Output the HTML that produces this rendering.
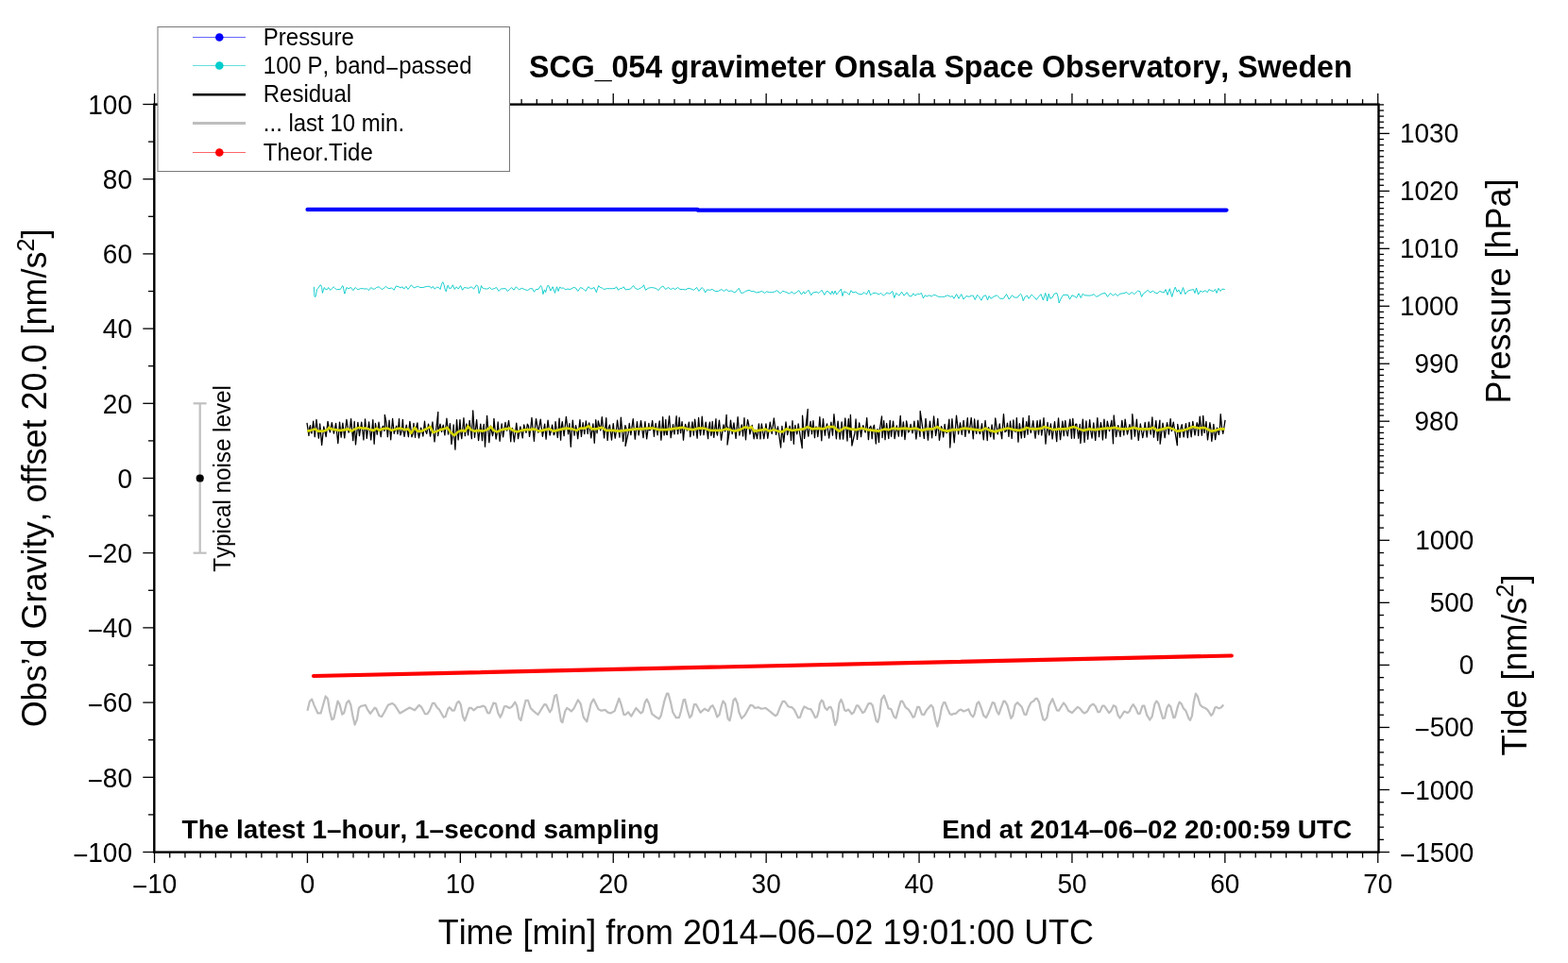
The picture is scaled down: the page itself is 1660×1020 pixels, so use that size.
<!DOCTYPE html>
<html><head><meta charset="utf-8"><title>SCG_054 gravimeter Onsala Space Observatory</title>
<style>html,body{margin:0;padding:0;background:#fff;width:1660px;height:1020px;overflow:hidden}svg{display:block}</style>
</head><body>
<svg width="1660" height="1020" viewBox="0 0 1660 1020" style="font-family:'Liberation Sans',Arial,Helvetica,sans-serif;font-kerning:none">
<rect width="1660" height="1020" fill="#fff"/>
<polyline points="325.48,752.71 327.83,742.92 330.18,740.57 332.53,746.84 336.45,755.45 339.58,755.45 344.67,737.44 347.02,740.18 348.98,752.71 351.33,762.11 353.28,761.33 357.59,742.53 359.55,746.05 362.29,756.63 364.25,755.06 366.99,744.49 369.34,742.14 371.3,746.45 373.25,757.41 375.6,767.59 377.95,762.11 379.91,749.97 381.87,748.01 386.96,746.84 389.31,751.93 392.05,755.84 396.75,749.58 398.31,750.75 401.45,758.19 404.19,758.98 406.93,754.28 410.84,746.84 415.15,744.88 417.89,746.84 423.37,755.45 428.07,752.71 433.55,749.58 439.04,752.32 443.73,746.84 446.08,748.8 450.09,756.23 452.44,756.23 454.79,752.71 457.92,744.88 459.88,744.88 462.62,749.19 464.97,751.54 469.67,759.76 471.63,758.98 474.37,750.75 475.93,749.19 479.07,752.71 481.02,752.32 483.77,744.49 485.72,742.92 487.68,746.05 490.03,758.98 491.99,763.28 493.95,758.19 496.69,749.97 499.04,749.97 501.39,752.32 505.69,748.8 508.43,748.8 511.57,747.62 513.52,748.8 516.27,755.06 518.22,755.45 522.53,744.49 524.88,745.27 527.23,755.06 529.58,759.76 531.54,755.84 533.89,748.4 535.84,748.01 539.37,749.97 542.11,748.4 545.24,743.7 547.2,747.62 549.55,760.93 551.51,762.89 553.86,752.71 556.6,741.75 558.95,741.75 561.69,749.97 564.82,753.1 569.52,757.02 576.27,746.05 578.22,746.45 582.14,754.28 584.1,751.14 587.23,737.05 589.19,735.87 591.14,746.84 593.89,763.67 595.45,765.24 598.19,753.49 600.15,749.97 602.11,751.14 604.85,753.49 607.59,750.36 611.9,741.36 614.64,745.27 617.77,759.76 621.3,764.46 625.6,745.27 628.34,740.57 630.69,745.27 633.43,751.14 636.57,752.71 640.48,751.93 643.61,754.67 646.36,755.45 650.66,753.1 655.36,739.79 657.71,746.45 660.45,757.02 662.02,757.02 665.15,754.28 668.28,758.58 673.37,749.97 678.46,755.45 680.42,753.89 682.77,744.1 684.73,740.57 687.08,745.27 690.21,756.23 693.73,758.98 697.74,761.33 699.7,758.19 703.22,742.92 705.96,734.7 707.53,734.7 710.27,744.88 712.23,754.28 715.75,760.15 718.89,760.15 720.84,753.49 723.58,741.36 725.15,740.96 727.89,752.71 730.24,760.15 732.2,757.8 734.94,746.05 736.9,746.05 741.6,754.67 745.9,750.75 749.82,753.1 752.56,748.4 754.52,747.23 756.87,751.93 759.22,759.37 761.57,757.02 763.92,747.23 765.48,742.53 767.83,745.66 770.57,760.93 772.53,763.28 774.1,756.63 776.45,741.75 778.4,739.79 780.75,745.27 782.32,754.28 785.06,760.93 788.58,757.41 794.46,746.84 796.81,747.23 799.16,749.97 803.07,749.19 806.2,750.75 810.51,749.97 815.6,753.89 820.69,758.19 822.74,757.02 825.87,748.8 828.61,742.92 830.57,742.92 832.53,745.27 834.1,748.01 836.05,748.8 838.4,749.19 840.75,751.54 845.06,760.15 847.02,759.76 849.37,752.71 851.33,748.4 853.67,749.58 855.63,750.75 858.37,751.14 860.72,755.06 863.07,760.15 865.03,758.98 866.99,751.93 867.77,745.66 869.73,741.75 871.3,742.92 873.25,749.58 875.6,751.93 877.56,749.19 879.52,748.8 881.48,753.49 882.65,761.33 884.22,767.98 886.17,762.89 888.52,744.88 890.48,740.96 892.44,745.66 894.01,751.93 895.57,753.1 898.31,751.54 901.84,756.23 903.8,754.67 906.93,747.23 908.49,747.23 910.45,750.36 913.19,755.06 915.15,753.89 919.46,745.27 921.81,744.88 923.77,747.23 927.68,763.67 929.25,764.85 930.81,759.76 933.16,740.96 935.9,736.66 937.86,742.14 940.6,750.36 943.34,751.14 946.57,759.37 948.52,760.54 950.87,751.93 953.61,742.92 955.18,742.53 956.75,745.27 958.7,749.19 961.84,751.54 964.19,755.06 966.54,759.76 968.1,758.98 971.23,748.8 973.19,748.8 975.93,756.63 978.28,757.02 981.02,751.93 984.16,748.4 985.72,746.84 987.68,749.19 990.03,761.33 992.38,769.55 994.73,761.33 997.08,748.8 999.04,744.1 1000.6,744.1 1002.95,750.36 1005.69,756.23 1007.65,757.02 1009.61,755.84 1011.96,755.84 1015.48,752.32 1017.44,751.54 1020.18,753.49 1023.31,752.32 1025.27,751.14 1027.62,756.63 1029.97,759.37 1031.54,756.63 1034.28,745.27 1036.23,743.31 1038.98,750.36 1041.33,757.8 1044.07,760.15 1046.81,754.28 1050.72,744.1 1052.68,744.88 1055.42,753.49 1057.38,756.63 1060.12,748.8 1062.47,742.53 1064.04,742.92 1066.39,746.84 1070.3,760.93 1072.35,757.8 1074.7,746.84 1077.05,744.1 1081.75,748.8 1084.49,756.63 1086.45,757.02 1088.8,749.58 1091.54,744.1 1094.28,742.53 1096.63,739.79 1098.19,740.18 1100.15,744.1 1102.11,753.49 1104.46,762.11 1106.02,762.89 1108.37,760.15 1110.72,747.23 1114.25,740.18 1116.6,746.45 1118.95,752.32 1120.9,752.71 1125.99,744.49 1127.95,746.84 1131.08,752.71 1135,755.06 1140.87,748.8 1143.22,750.36 1146.36,754.28 1148.31,755.45 1151.05,753.49 1154.19,747.62 1157.32,745.66 1159.67,748.01 1162.41,754.28 1164.37,753.89 1167.11,747.62 1169.07,747.62 1174.16,755.06 1176.11,753.1 1178.86,747.23 1181.2,748.4 1183.55,757.41 1185.51,760.54 1187.47,757.8 1190.21,753.49 1193.73,755.06 1195.69,753.49 1197.74,748.8 1199.7,746.05 1202.44,750.36 1204.79,755.84 1206.75,755.84 1209.49,747.62 1211.45,747.62 1214.19,757.41 1217.32,762.5 1219.67,758.98 1222.41,746.05 1224.37,742.53 1226.33,744.88 1231.02,760.93 1232.98,760.54 1235.33,749.97 1237.29,746.45 1239.25,748.4 1242.38,760.15 1243.95,759.76 1247.08,747.62 1248.64,743.7 1250.6,745.27 1252.95,750.36 1255.3,752.71 1258.43,760.93 1260,762.89 1261.96,758.19 1263.92,742.92 1265.87,734.7 1267.83,737.44 1270.57,746.45 1272.92,748.8 1276.45,750.36 1278.4,751.93 1282.32,757.8 1284.28,755.45 1286.23,749.58 1287.41,748.8 1290.54,750.36 1292.89,749.19 1295.24,746.45" fill="none" stroke="#bebebe" stroke-width="2.2" stroke-linejoin="round" />
<line x1="332" y1="716" x2="1303.8" y2="694.5" stroke="#ff0000" stroke-width="4.2" stroke-linecap="round"/>
<polyline points="325.5,221.9 738.5,221.9 738.6,222.6 1298.5,222.6" fill="none" stroke="#0000ff" stroke-width="4.2" stroke-linejoin="round" stroke-linecap="round"/>
<polyline points="332.44,303.75 332.83,313.14 333.61,314.71 334.4,313.14 335.57,306.49 336.75,305.31 339.1,301.79 339.88,302.18 340.66,304.53 341.45,310.4 342.23,307.66 343.4,304.53 344.58,306.49 346.14,306.88 347.71,304.53 348.89,306.49 350.06,307.27 351.63,305.7 353.19,303.75 354.37,304.92 356.33,306.88 357.89,306.49 359.85,306.49 361.02,305.7 362.59,302.57 363.37,303.36 364.16,308.45 364.94,311.19 365.72,308.45 366.9,304.53 368.86,305.7 371.6,304.53 373.95,307.66 376.3,304.53 378.25,306.49 379.82,306.49 381.39,305.7 384.52,305.7 386.87,306.1 388.43,305.7 390.39,307.66 392.74,304.53 394.7,306.1 396.66,306.1 398.61,304.53 400.96,303.75 402.53,304.92 404.1,306.49 406.05,305.7 408.4,303.36 410.36,304.92 411.93,305.7 414.67,304.92 417.02,307.27 419.37,302.96 422.11,303.75 424.07,304.92 426.02,303.75 427.59,306.1 429.94,303.36 431.9,306.49 433.46,304.53 435.42,301.79 438.16,304.92 440.12,304.14 442.47,303.36 444.82,304.53 447.95,304.53 450.3,303.75 452.65,303.36 455,303.36 455.48,303.75 456.66,305.31 458.22,303.36 460.18,306.1 462.53,304.14 464.49,304.53 466.05,306.49 467.62,300.61 468.8,298.66 469.97,301.4 471.14,306.49 472.32,308.84 473.49,303.75 474.28,302.18 475.45,305.31 477.41,305.31 479.37,301.79 481.33,306.49 483.28,303.75 485.24,306.1 487.59,302.57 489.55,307.27 491.51,304.53 493.86,304.92 496.2,305.31 498.95,303.75 501.69,306.1 504.43,301.79 505.99,303.36 507.17,310.8 508.34,307.66 509.52,302.57 510.69,304.92 512.65,305.7 515.78,306.1 518.52,304.53 520.48,306.49 523.22,305.7 525.57,304.53 527.92,308.45 530.27,306.1 533.01,305.7 535.36,305.7 537.32,308.45 539.28,306.88 541.63,304.53 543.98,307.27 546.33,303.75 549.46,306.88 552.2,305.31 555.33,306.49 558.46,307.66 561.2,305.7 563.55,305.7 565.51,309.23 567.47,306.49 569.82,306.49 572.56,302.57 573.73,304.53 574.91,311.58 576.48,306.88 577.65,309.62 579.22,303.75 579.7,302.57 580.87,302.57 582.83,308.05 585.18,303.75 587.53,310.4 589.49,303.75 591.05,308.45 592.62,304.14 594.58,305.31 596.54,304.92 598.49,306.88 600.84,306.1 603.98,306.49 607.11,304.53 609.46,304.92 611.81,308.45 614.55,304.53 617.29,305.7 620.03,308.45 622.77,303.75 625.9,306.1 629.04,304.53 631.39,309.62 632.56,305.7 633.73,302.57 635.3,304.53 637.26,304.92 639.22,306.49 642.35,305.7 645.48,305.7 648.61,305.7 651.36,305.31 652.53,303.75 654.49,307.27 656.45,305.7 658.4,305.31 660.36,303.75 662.32,306.88 665.06,306.49 667.41,306.1 670.54,302.57 672.89,305.7 675.63,306.49 678.37,304.92 680.33,303.75 681.51,301.79 683.46,307.27 686.2,305.31 689.34,304.53 692.47,304.92 694.82,305.7 697.17,307.66 699.52,304.53 701.87,302.96 704.61,306.49 707.44,304.53 710.18,306.49 712.53,305.31 714.88,306.49 717.62,304.53 719.97,306.49 722.71,306.49 725.45,306.88 728.98,305.31 731.72,306.1 734.46,307.27 737.59,304.53 739.94,308.45 743.07,304.53 745.03,306.49 746.6,310.01 748.55,306.88 751.3,307.27 754.04,306.49 757.17,308.45 760.3,308.45 763.83,306.49 766.57,308.45 768.92,306.49 771.27,308.45 774.4,308.05 777.92,310.01 782.23,305.31 784.58,310.4 787.32,310.01 789.28,308.45 793.19,307.27 795.93,308.84 797.89,308.45 800.63,310.01 804.16,309.23 806.51,308.45 809.64,310.4 811.6,308.84 814.34,309.62 817.47,309.62 820.6,308.84 822.56,307.66 826.08,310.8 828.43,308.45 830,308.45 830.48,308.84 832.83,309.62 835.57,311.19 837.92,308.84 840.66,311.19 843.4,309.62 845.75,307.66 848.49,311.97 850.84,308.84 852.02,311.19 855.93,307.27 858.67,312.75 860.63,310.01 864.16,309.23 866.9,310.4 870.03,307.27 872.77,312.36 875.12,308.45 877.08,308.84 879.43,311.97 880.99,308.45 882.56,311.58 884.13,308.05 885.69,311.97 887.65,309.62 890.39,306.1 891.96,313.54 893.52,308.84 896.27,309.62 899.01,312.36 900.96,307.66 902.92,310.01 905.66,309.23 908.8,311.19 911.93,311.97 915.06,309.62 917.41,311.97 919.76,307.27 921.72,312.75 924.07,310.4 927.59,310.4 930.33,311.97 932.68,310.4 935.42,313.14 938.95,310.01 941.69,311.19 944.82,308.45 946.78,315.49 948.73,310.4 951.87,313.14 954.61,309.23 957.05,313.14 960.18,309.62 962.53,313.54 964.88,313.93 966.84,310.8 968.8,313.14 971.54,311.19 973.49,311.58 975.45,310.4 977.41,315.89 979.37,312.75 981.33,313.93 983.67,312.75 986.42,313.93 988.37,312.36 990.72,312.75 993.46,314.32 996.6,314.32 999.73,314.32 1003.25,312.75 1006.39,314.32 1008.34,313.54 1009.91,316.28 1012.65,311.58 1015,316.28 1017.74,311.58 1020.09,317.06 1022.83,313.54 1025.96,314.32 1028.31,313.14 1030.27,313.14 1032.23,317.45 1034.58,312.36 1036.54,314.32 1038.89,318.23 1041.23,313.54 1043.58,312.75 1045.54,317.84 1047.11,313.54 1049.07,316.28 1051.81,314.32 1055.33,312.75 1058.86,316.28 1062.38,316.28 1065.51,311.58 1068.25,317.06 1071.39,312.75 1074.13,315.1 1077.26,315.1 1079.61,311.97 1080.48,311.19 1081.66,312.75 1083.22,318.63 1085.18,314.32 1087.53,313.14 1089.1,316.28 1092.23,311.97 1094.58,314.32 1097.32,317.45 1099.28,314.71 1102.02,311.58 1104.37,317.84 1106.72,310.4 1107.89,314.71 1108.67,319.02 1110.24,311.19 1111.81,316.28 1114.16,315.1 1116.11,311.19 1118.86,310.4 1120.03,313.93 1121.2,320.98 1122.77,317.06 1125.51,312.36 1130.6,312.36 1132.56,317.06 1134.91,312.75 1137.65,313.93 1139.61,315.49 1141.96,310.8 1144.31,315.49 1146.27,311.19 1148.22,312.75 1153.31,313.14 1155.66,312.75 1158.01,311.58 1160.75,314.32 1163.49,313.14 1166.23,311.19 1170.15,310.4 1172.5,314.32 1175.63,310.4 1178.37,313.14 1180.72,311.19 1183.46,313.54 1185.42,311.19 1188.95,310.8 1192.86,309.62 1195.21,311.97 1198.34,309.62 1200.69,311.58 1204.22,308.45 1204.7,308.1 1206.66,308.49 1208.61,314.37 1210.57,310.84 1212.92,309.28 1215.27,307.32 1217.62,310.06 1220.36,308.1 1223.1,310.06 1225.06,310.84 1227.8,308.49 1230.15,309.28 1232.11,310.06 1234.07,306.54 1236.02,312.41 1238.37,305.75 1240.72,314.37 1242.68,307.71 1244.25,304.19 1246.2,309.28 1247.77,306.93 1250.12,311.63 1252.47,304.58 1254.82,311.63 1257.56,308.1 1260.3,307.32 1263.43,306.54 1265,310.45 1266.57,304.97 1268.52,312.02 1270.87,308.1 1273.22,309.28 1275.96,307.71 1278.31,309.67 1279.88,306.54 1281.84,307.71 1284.58,308.49 1286.54,306.54 1288.1,310.45 1290.06,305.36 1292.02,308.49 1293.98,306.14 1296.72,306.54" fill="none" stroke="#00c8c8" stroke-width="0.9" stroke-linejoin="round" />
<polyline points="325,447.85 326.96,461.46 327.71,453.34 328.46,450.73 329.25,457.87 330.04,458.98 331.69,446.19 333.26,462.64 334.97,444.44 337.38,464.09 338.04,458.09 338.7,449.01 340.64,471.33 342.78,451.88 345.19,462.51 347.03,446.36 349.35,457.81 351.34,447.57 353.41,459.09 355.6,448.44 357.84,469.56 359.54,447.07 361.14,463.15 362.87,448.07 364.76,463.91 366.88,444.46 369.13,458.04 370.37,454.57 371.61,443.6 373.76,466.66 375.2,446.52 376.5,470.9 378.89,447.37 380.52,461.66 382.75,447.15 384.94,465.87 385.74,454.95 386.54,444.01 387.4,453.05 388.26,464.3 390.6,446.79 392.71,465.95 394.8,444.53 396.14,470.33 397.51,448.51 399.27,460.17 401.02,447.24 403.24,462.55 404.42,453.29 405.59,451.24 406.5,456.05 407.41,455.88 407.3,439.3 408.99,447.57 410.37,462.7 412.07,445.27 413.7,465.75 415.62,443.47 417.23,459.24 419.71,451.14 420.37,456.17 421.04,459.69 422.51,443.75 423.23,455.65 423.96,460.82 425.18,457.01 426.39,444.39 427.23,456.78 428.07,462.39 429.15,455.96 430.23,450.09 432.41,462.64 433.16,452.96 433.92,446.3 435.96,462.77 436.96,460.14 437.97,448.4 439.54,463.28 440.72,452.75 441.91,447.84 442.71,459.49 443.51,463.8 445.68,453.16 447.9,462.05 449.53,446.23 450.64,456.79 451.75,459.43 453.56,449.06 455.56,462.09 457.95,446.98 459.99,467.97 462.22,450.67 463.8,436.3 463.63,461.55 464.83,454.49 466.02,449.06 467.59,457.26 469.22,450.07 470.87,460.91 472.93,443.23 473.74,450.72 474.55,460.01 476.45,448.63 477.95,470.36 479.06,462.58 480.17,450 481.9,476.2 483.52,444.56 485.14,465.92 486.05,456.86 486.97,444.64 487.89,459.06 488.81,464.56 490.95,442.74 492.33,461.59 493.91,448.83 494.76,455.16 495.61,460.74 497.12,445.33 499.34,464.66 500.7,434.8 502.5,463.24 504.6,444.54 505.59,455.86 506.59,466.53 508.81,449.1 509.66,457.87 510.52,466.62 511.43,453.45 512.34,449.48 513.5,473.2 515.58,440.34 517.85,468.66 519.47,451.07 521.52,461.54 522.23,457.81 522.94,443.34 525.11,465.02 526.14,459.43 527.17,446.99 529.12,467.23 531.16,448.91 532.6,462.78 534.99,447.47 536.69,456.05 538.56,445.53 539.65,454.28 540.74,467.79 541.63,455.35 542.52,453.52 544.38,467.91 546.76,448.14 548.55,464.65 550.9,451.94 553.26,463.87 554.71,449.86 557,458.35 558.38,449.2 559.45,451.09 560.53,462.45 561.75,453.81 562.98,442.48 565.44,467.28 566.49,452.59 567.54,443.62 569.86,458.17 572.25,444.13 574.36,462.29 576.65,449.1 577.37,456.84 578.09,465.13 580.07,445.09 582.14,461.04 583.38,456.51 584.63,450.11 586.33,460.67 587.2,459.2 588.06,446.58 590.3,463.48 591.2,455.39 592.09,443.12 592.85,455.14 593.6,466.22 594.42,451.97 595.25,446.61 597.12,461.66 599.38,441.49 601.57,459.77 602.91,448.59 604.28,473.23 605.31,456.89 606.35,445.11 607.19,454.06 608.04,461.18 609.58,450.75 610.64,455.92 611.71,464.62 613.96,444.53 614.72,454.92 615.47,462.47 617.17,447.77 618.76,459.55 619.56,452.97 620.35,445.83 622.21,459.35 622.96,451.33 623.7,447.9 625.74,463.79 627.89,448.92 629.27,469.27 630.77,444.74 632.09,458.77 632.75,452.81 633.4,445.78 635.78,455.96 637.3,441.6 639.6,463.85 641.8,442.54 642.49,457.46 643.18,466.42 644.34,453.3 645.5,450.07 647.52,466.04 649.24,448.68 650.25,457.66 651.26,464.17 652.42,456.3 653.57,445.24 655.96,463.21 656.67,452.98 657.38,442.16 659.64,467.51 661.92,450.54 662.99,453.94 662.1,472.4 665.16,458.89 666.25,448.52 667.06,454.91 667.87,460.57 670.22,443.72 672.33,465.15 674.46,446.77 676.17,460.86 678.55,445.63 681.02,463.58 682.94,446.58 684.65,464.79 686.92,448.35 687.57,455.67 688.22,455.51 689.47,452.26 690.71,445.52 692.46,462.23 693.31,453.23 694.16,448.5 696.09,460.75 697.14,453.07 698.19,445.8 699.04,454.75 699.89,466.1 700.79,455.95 701.68,441.61 703.06,461.05 703.95,456.66 704.84,444.44 705.58,460.22 706.31,460.47 708.58,440.75 710.18,463.63 712.62,449.54 713.31,457.13 714,459.9 716.14,440.77 716.91,453.83 717.69,459.68 719.16,442.09 719.88,451.36 720.6,458.59 722.07,446.61 723.49,466.22 724.56,454.33 725.63,449.33 727.43,456.2 729.41,447.22 730.77,462.67 733.02,446.81 734.32,460.99 735.65,444.22 738.12,464.17 739.6,442.45 740.59,454.07 741.57,460.93 742.41,453.5 743.25,441.06 744.99,460.69 747.22,447.11 749.58,464.59 750.52,451.99 751.46,447.22 752.16,455.69 752.86,461.37 753.53,457.65 754.2,446.5 754.97,455.49 755.74,463.31 757.94,443.77 758.7,458.08 759.47,461.09 761.45,445.1 762.49,455.48 763.53,466.2 765.99,449.79 766.81,454.71 767.63,456.9 769.1,439.3 769.61,452 770.72,452.56 770,471 772.67,454.6 773.51,445.16 775.15,459.7 776.94,447.83 779.05,464.33 781.1,441.68 781.96,451.48 782.82,461.01 785.14,449.84 785.84,454.99 786.54,461.84 787.97,442.56 788.73,455.67 789.5,465.76 790.52,452.56 791.54,444.69 792.73,450 793.93,459.96 796.21,450.43 798.19,464.74 799.62,455.33 801.57,464.52 802.47,456.99 803.36,448.91 804.97,464.89 806.3,448.96 808.73,464.65 809.83,457.35 810.93,448.92 811.85,456.26 812.76,464.28 815.26,447.25 817.16,459.39 819.33,443 821.56,460.41 823.54,451.98 826.6,474 827.9,451.37 829.74,468.18 832,447.01 833.65,460.52 836.1,451.17 836.79,457.23 837.48,466.48 838.97,445.73 840.32,470.26 841.05,455.02 841.79,450.48 843.72,459.76 844.42,455.68 845.12,448.9 849.2,474.7 849.55,440.19 851.61,464.33 852.58,456.63 855.2,433.3 854.67,455.08 855.79,462.14 856.97,452.84 858.15,446.45 859.45,459.68 860.95,445.69 862.49,463.65 863.19,454.5 863.89,451.84 864.84,453.57 865.79,462.51 866.83,454.27 867.87,441.75 869.79,466.73 870.65,452.6 871.51,443.66 872.47,454.69 873.43,461.07 874.49,452.59 875.55,448.84 877.67,464.02 879.89,447.24 881.47,461.14 882.93,438.76 885.39,464.76 887.09,446.11 889.2,465.12 890.18,455.73 891.15,446.92 891.89,456.53 892.62,465.16 894.78,443 897,466.99 897.67,450.63 898.33,443.67 899.13,455.09 899.92,463.29 900.4,439.3 901.9,472 904.89,458.97 906.07,443.94 906.78,454.73 907.48,465.39 909.7,447.91 910.63,454.65 911.56,462.72 912.7,454.01 913.84,450.68 916.16,458.04 917.69,442.57 919.42,465.59 920.64,453.04 921.85,451.31 922.52,454.63 923.19,464.72 924.32,453.31 925.45,450.25 927.33,469.98 928.21,456.67 929.09,454.61 930.47,468.44 931.19,456.27 933.5,441 934.01,463.56 934.87,456.47 935.72,445.71 937.03,465.68 938.66,448.48 940.79,464.48 942.22,445.29 942.91,455.81 943.59,462.24 945.61,446.09 947.11,464.55 949.32,450.87 951.33,462.15 953.24,440.28 954.02,453.31 954.8,462.16 955.58,454.52 956.35,446.82 957.17,455.19 957.98,465.5 958.82,458.08 959.66,445.89 961.67,457.81 962.88,456.04 964.1,449.34 965.98,458.73 966.95,454.73 967.91,446.12 969.9,464.98 970.85,457.33 971.8,445.3 974.05,462.32 974.2,435.5 978.36,464.45 980.02,443.35 982.46,466.2 983.47,455.23 984.49,446.1 986.67,463.75 988.6,440.95 990.66,461.33 991.7,455.32 992.74,443.31 994.47,466.28 996.58,451.53 997.63,454.97 998.68,462.82 1000.15,449.29 1001.32,457.88 1002.48,458.45 1003.67,453.84 1004.86,444.16 1005.8,474 1007.21,453.39 1007.92,443.56 1010.23,468.81 1012.53,440.19 1014.64,459.73 1016.55,447.8 1018.28,460.25 1020.1,445.29 1021.91,462.47 1023.11,452.9 1024.31,442.7 1025.12,455.49 1025.93,458.93 1028.21,442.51 1030.29,464.78 1031.65,444.02 1032.73,455.12 1033.8,459.34 1035.21,445.14 1036.32,456.58 1037.43,459.64 1038.48,454.51 1039.53,448.78 1040.4,458.07 1041.28,465.74 1043.05,445.47 1044.15,454.98 1045.25,466.5 1045.95,454.19 1046.65,452.55 1048.78,462.51 1050.09,449.81 1052.17,465.14 1053.76,442.86 1056.2,459.88 1058.24,449 1060.65,464.66 1062.49,438.57 1064,457.64 1065.24,456.5 1066.47,448.16 1067.96,462.38 1068.76,454.64 1069.56,446.25 1071.19,464.35 1072.86,444.89 1073.92,456.16 1074.99,457.26 1075.66,453.65 1076.34,442.64 1077.96,468.14 1079.4,448.57 1081.31,464.06 1083.1,442.59 1083.89,455.81 1084.69,463.31 1086.74,446.55 1088.04,460.09 1089.35,440.33 1090.34,454.14 1091.34,458.45 1092.56,452.42 1093.78,445.7 1094.92,455.75 1096.06,464.13 1098.09,445.6 1099.55,460.22 1101.12,444.79 1102.8,461.01 1103.9,452.98 1105,442.67 1107,470.2 1109.04,447.5 1109.92,455.68 1110.81,460.83 1112.39,448.81 1114.12,464.81 1116.56,446.71 1118.7,467.68 1119.63,453.52 1120.56,442.78 1121.57,455.93 1122.58,465.69 1124.91,446.16 1126.25,461.58 1127.04,451.61 1127.83,445.52 1129.07,456.8 1130.31,461.76 1132.78,444.1 1134.46,464.31 1135.12,451.86 1135.78,443.41 1136.56,452.64 1137.34,464.15 1138.56,449.44 1139.78,449.23 1141.76,464.24 1143.28,449.44 1143.9,469.4 1146.37,444.17 1148.1,468.4 1149.02,456.52 1149.94,445.95 1151.64,465.18 1153.67,444.73 1154.87,457.22 1156.07,464.04 1157.8,447.87 1159.69,466.33 1161.79,442.63 1163.55,462.61 1165.37,447.71 1166.4,453.33 1167.42,465.93 1168.94,444.05 1170.77,464.16 1172.3,446.1 1174.54,456.7 1175.7,451.25 1176.87,445.27 1178.5,469.85 1179.2,440 1181.61,462.65 1183.76,450.64 1186.04,462.35 1187.83,445.36 1189.78,460.83 1191.12,444.03 1192.32,452.61 1193.53,460 1195.93,449.65 1196.91,454.7 1197.9,465.18 1198.8,438.6 1201.42,462.16 1203.4,444.27 1204.31,455.52 1205.23,466.34 1207.31,449.01 1209.75,463.58 1210.98,456.67 1212.21,447.51 1214.18,463 1215.17,455.18 1216.16,446.95 1218.22,460 1219.86,441.8 1220.64,453.53 1221.41,463.21 1223.84,445.61 1225.63,466.54 1226.76,453.3 1227.9,445.09 1228.2,470.2 1231.01,448.09 1232.09,455.29 1233.17,463.7 1235.53,447.73 1236.41,452.12 1237.29,460.05 1239.14,443.64 1240.45,456.56 1242.27,447.19 1246.3,471.7 1246.72,449.36 1249.12,463.28 1250.18,453.09 1251.23,449.7 1253.18,462.78 1255.48,448.68 1257.34,463.66 1259.08,447.43 1261.17,462.76 1262.79,446.41 1265.02,460.94 1266.11,454.29 1267.2,447.74 1267.94,449.41 1268.67,461.46 1270.24,441.05 1272.35,461.17 1273.04,454.46 1273.73,440.35 1275.15,458.33 1276.91,446.51 1278.51,465.83 1280.87,447.75 1281.82,453.63 1282.77,467.32 1283.8,459.61 1284.83,449.38 1286.6,465.55 1288.45,453.08 1290.42,460.43 1291.56,451.23 1292.2,438.6 1293.75,454.79 1294.81,459.25 1297.04,444.83" fill="none" stroke="#000" stroke-width="1.3" stroke-linejoin="round" />
<polyline points="325.27,456.63 329.04,455.87 333.55,454.37 336.57,456.63 342.59,456.63 346.36,455.12 348.61,452.86 350.12,454.37 354.64,455.12 360.66,455.87 365.18,455.12 368.95,454.37 371.96,456.63 375.72,454.37 380.24,452.86 383.25,453.61 387.77,453.61 392.29,455.12 395.3,455.87 399.07,453.61 401.33,455.87 404.34,454.37 410.36,453.61 414.88,455.87 419.4,454.37 423.92,453.61 428.43,455.12 432.2,454.37 435.21,458.89 438.98,452.86 441.99,456.63 446.51,456.63 451.02,454.37 455.54,452.11 458.55,458.13 463.07,456.63 466.08,455.12 469.85,454.37 473.61,452.86 476.63,457.38 481.14,461.14 484.91,457.38 488.67,455.87 492.44,456.63 495.45,451.36 498.46,455.12 502.23,456.63 506.75,455.87 511.27,456.63 515.78,455.12 519.55,452.11 522.56,455.87 526.33,457.38 530.84,455.12 535.36,454.37 539.88,453.61 542.89,455.87 547.41,457.38 551.93,455.87 556.45,455.12 560.96,455.12 565.48,454.37 571.02,456.63 577.05,455.12 581.57,454.37 586.08,456.63 592.11,455.12 599.64,453.61 605.66,454.37 610.18,455.87 614.7,453.61 619.22,453.61 622.98,451.36 626.75,454.37 631.27,454.37 637.29,452.86 641.81,455.87 649.34,455.87 655.36,456.63 661.39,455.87 667.41,455.12 673.43,454.37 679.46,454.37 685.48,453.61 691.51,453.61 697.53,455.12 705.06,455.12 711.08,454.37 717.11,453.61 722.38,452.86 727.65,454.37 733.67,455.12 739.7,453.61 745.72,453.61 751.75,455.87 757.77,455.87 763.8,455.87 768.31,454.37 772.83,455.12 777.35,456.63 783.37,455.12 789.4,452.11 792.41,453.61 795.42,452.11 798.43,456.63 802.95,455.87 808.98,455.12 810,454.37 814.52,456.63 819.04,455.12 823.55,456.63 828.07,457.38 832.59,454.37 838.61,455.87 844.64,455.12 850.66,454.37 855.18,452.11 859.7,454.37 865.72,453.61 871.75,454.37 876.27,452.11 882.29,452.11 888.31,456.63 894.34,452.86 900.36,454.37 906.39,455.12 912.41,453.61 918.43,455.12 924.46,455.87 930.48,456.63 936.51,454.37 941.02,455.12 945.54,453.61 951.57,454.37 957.59,453.61 963.61,454.37 969.64,453.61 975.66,455.87 981.69,454.37 987.71,454.37 992.23,452.11 996.75,455.12 1002.77,456.63 1008.8,455.12 1014.82,455.12 1020.84,453.61 1026.87,454.37 1032.89,455.12 1038.92,455.87 1043.43,453.61 1047.95,455.87 1053.98,457.38 1055,456.63 1061.02,455.12 1067.05,453.61 1073.07,455.12 1079.1,455.87 1085.12,454.37 1086.63,452.86 1091.14,454.37 1097.17,454.37 1103.19,453.61 1105.45,452.11 1110.72,453.61 1115.24,455.12 1121.27,454.37 1127.29,454.37 1131.81,453.61 1137.08,452.11 1142.35,454.37 1146.87,455.87 1152.89,454.37 1158.92,455.12 1164.94,454.37 1170.96,453.61 1176.99,453.61 1180,452.86 1186.02,454.37 1192.05,454.37 1198.07,453.61 1199.58,452.86 1205.6,454.37 1211.63,454.37 1217.65,454.37 1220.66,452.86 1225.18,455.87 1231.2,454.37 1237.23,452.86 1241.75,454.37 1246.27,456.63 1252.29,455.87 1256.81,454.37 1262.83,452.11 1268.86,453.61 1274.88,452.86 1277.89,454.37 1282.41,456.63 1286.93,455.87 1291.45,454.37 1296.72,454.37" fill="none" stroke="#d6d600" stroke-width="2.6" stroke-linejoin="round" />
<line x1="211.7" y1="427.3" x2="211.7" y2="585.7" stroke="#c0c0c0" stroke-width="2.2" />
<line x1="204.6" y1="427.3" x2="218.6" y2="427.3" stroke="#c0c0c0" stroke-width="2.2" />
<line x1="204.6" y1="585.7" x2="218.6" y2="585.7" stroke="#c0c0c0" stroke-width="2.2" />
<circle cx="211.7" cy="506.5" r="4.1" fill="#000"/>
<text transform="translate(244.3 507) rotate(-90) scale(1 1.045)" font-size="24.2" text-anchor="middle" >Typical noise level</text>
<line x1="163.55" y1="902.6" x2="163.55" y2="914.1" stroke="#000" stroke-width="1.3" />
<line x1="163.55" y1="110.6" x2="163.55" y2="99.1" stroke="#000" stroke-width="1.3" />
<line x1="179.74" y1="902.6" x2="179.74" y2="908.6" stroke="#000" stroke-width="1.3" />
<line x1="179.74" y1="110.6" x2="179.74" y2="105.1" stroke="#000" stroke-width="1.3" />
<line x1="195.93" y1="902.6" x2="195.93" y2="908.6" stroke="#000" stroke-width="1.3" />
<line x1="195.93" y1="110.6" x2="195.93" y2="105.1" stroke="#000" stroke-width="1.3" />
<line x1="212.12" y1="902.6" x2="212.12" y2="908.6" stroke="#000" stroke-width="1.3" />
<line x1="212.12" y1="110.6" x2="212.12" y2="105.1" stroke="#000" stroke-width="1.3" />
<line x1="228.31" y1="902.6" x2="228.31" y2="908.6" stroke="#000" stroke-width="1.3" />
<line x1="228.31" y1="110.6" x2="228.31" y2="105.1" stroke="#000" stroke-width="1.3" />
<line x1="244.5" y1="902.6" x2="244.5" y2="908.6" stroke="#000" stroke-width="1.3" />
<line x1="244.5" y1="110.6" x2="244.5" y2="105.1" stroke="#000" stroke-width="1.3" />
<line x1="260.69" y1="902.6" x2="260.69" y2="908.6" stroke="#000" stroke-width="1.3" />
<line x1="260.69" y1="110.6" x2="260.69" y2="105.1" stroke="#000" stroke-width="1.3" />
<line x1="276.88" y1="902.6" x2="276.88" y2="908.6" stroke="#000" stroke-width="1.3" />
<line x1="276.88" y1="110.6" x2="276.88" y2="105.1" stroke="#000" stroke-width="1.3" />
<line x1="293.07" y1="902.6" x2="293.07" y2="908.6" stroke="#000" stroke-width="1.3" />
<line x1="293.07" y1="110.6" x2="293.07" y2="105.1" stroke="#000" stroke-width="1.3" />
<line x1="309.26" y1="902.6" x2="309.26" y2="908.6" stroke="#000" stroke-width="1.3" />
<line x1="309.26" y1="110.6" x2="309.26" y2="105.1" stroke="#000" stroke-width="1.3" />
<line x1="325.45" y1="902.6" x2="325.45" y2="914.1" stroke="#000" stroke-width="1.3" />
<line x1="325.45" y1="110.6" x2="325.45" y2="99.1" stroke="#000" stroke-width="1.3" />
<line x1="341.64" y1="902.6" x2="341.64" y2="908.6" stroke="#000" stroke-width="1.3" />
<line x1="341.64" y1="110.6" x2="341.64" y2="105.1" stroke="#000" stroke-width="1.3" />
<line x1="357.83" y1="902.6" x2="357.83" y2="908.6" stroke="#000" stroke-width="1.3" />
<line x1="357.83" y1="110.6" x2="357.83" y2="105.1" stroke="#000" stroke-width="1.3" />
<line x1="374.02" y1="902.6" x2="374.02" y2="908.6" stroke="#000" stroke-width="1.3" />
<line x1="374.02" y1="110.6" x2="374.02" y2="105.1" stroke="#000" stroke-width="1.3" />
<line x1="390.21" y1="902.6" x2="390.21" y2="908.6" stroke="#000" stroke-width="1.3" />
<line x1="390.21" y1="110.6" x2="390.21" y2="105.1" stroke="#000" stroke-width="1.3" />
<line x1="406.4" y1="902.6" x2="406.4" y2="908.6" stroke="#000" stroke-width="1.3" />
<line x1="406.4" y1="110.6" x2="406.4" y2="105.1" stroke="#000" stroke-width="1.3" />
<line x1="422.59" y1="902.6" x2="422.59" y2="908.6" stroke="#000" stroke-width="1.3" />
<line x1="422.59" y1="110.6" x2="422.59" y2="105.1" stroke="#000" stroke-width="1.3" />
<line x1="438.78" y1="902.6" x2="438.78" y2="908.6" stroke="#000" stroke-width="1.3" />
<line x1="438.78" y1="110.6" x2="438.78" y2="105.1" stroke="#000" stroke-width="1.3" />
<line x1="454.97" y1="902.6" x2="454.97" y2="908.6" stroke="#000" stroke-width="1.3" />
<line x1="454.97" y1="110.6" x2="454.97" y2="105.1" stroke="#000" stroke-width="1.3" />
<line x1="471.16" y1="902.6" x2="471.16" y2="908.6" stroke="#000" stroke-width="1.3" />
<line x1="471.16" y1="110.6" x2="471.16" y2="105.1" stroke="#000" stroke-width="1.3" />
<line x1="487.35" y1="902.6" x2="487.35" y2="914.1" stroke="#000" stroke-width="1.3" />
<line x1="487.35" y1="110.6" x2="487.35" y2="99.1" stroke="#000" stroke-width="1.3" />
<line x1="503.54" y1="902.6" x2="503.54" y2="908.6" stroke="#000" stroke-width="1.3" />
<line x1="503.54" y1="110.6" x2="503.54" y2="105.1" stroke="#000" stroke-width="1.3" />
<line x1="519.73" y1="902.6" x2="519.73" y2="908.6" stroke="#000" stroke-width="1.3" />
<line x1="519.73" y1="110.6" x2="519.73" y2="105.1" stroke="#000" stroke-width="1.3" />
<line x1="535.92" y1="902.6" x2="535.92" y2="908.6" stroke="#000" stroke-width="1.3" />
<line x1="535.92" y1="110.6" x2="535.92" y2="105.1" stroke="#000" stroke-width="1.3" />
<line x1="552.11" y1="902.6" x2="552.11" y2="908.6" stroke="#000" stroke-width="1.3" />
<line x1="552.11" y1="110.6" x2="552.11" y2="105.1" stroke="#000" stroke-width="1.3" />
<line x1="568.3" y1="902.6" x2="568.3" y2="908.6" stroke="#000" stroke-width="1.3" />
<line x1="568.3" y1="110.6" x2="568.3" y2="105.1" stroke="#000" stroke-width="1.3" />
<line x1="584.49" y1="902.6" x2="584.49" y2="908.6" stroke="#000" stroke-width="1.3" />
<line x1="584.49" y1="110.6" x2="584.49" y2="105.1" stroke="#000" stroke-width="1.3" />
<line x1="600.68" y1="902.6" x2="600.68" y2="908.6" stroke="#000" stroke-width="1.3" />
<line x1="600.68" y1="110.6" x2="600.68" y2="105.1" stroke="#000" stroke-width="1.3" />
<line x1="616.87" y1="902.6" x2="616.87" y2="908.6" stroke="#000" stroke-width="1.3" />
<line x1="616.87" y1="110.6" x2="616.87" y2="105.1" stroke="#000" stroke-width="1.3" />
<line x1="633.06" y1="902.6" x2="633.06" y2="908.6" stroke="#000" stroke-width="1.3" />
<line x1="633.06" y1="110.6" x2="633.06" y2="105.1" stroke="#000" stroke-width="1.3" />
<line x1="649.25" y1="902.6" x2="649.25" y2="914.1" stroke="#000" stroke-width="1.3" />
<line x1="649.25" y1="110.6" x2="649.25" y2="99.1" stroke="#000" stroke-width="1.3" />
<line x1="665.44" y1="902.6" x2="665.44" y2="908.6" stroke="#000" stroke-width="1.3" />
<line x1="665.44" y1="110.6" x2="665.44" y2="105.1" stroke="#000" stroke-width="1.3" />
<line x1="681.63" y1="902.6" x2="681.63" y2="908.6" stroke="#000" stroke-width="1.3" />
<line x1="681.63" y1="110.6" x2="681.63" y2="105.1" stroke="#000" stroke-width="1.3" />
<line x1="697.82" y1="902.6" x2="697.82" y2="908.6" stroke="#000" stroke-width="1.3" />
<line x1="697.82" y1="110.6" x2="697.82" y2="105.1" stroke="#000" stroke-width="1.3" />
<line x1="714.01" y1="902.6" x2="714.01" y2="908.6" stroke="#000" stroke-width="1.3" />
<line x1="714.01" y1="110.6" x2="714.01" y2="105.1" stroke="#000" stroke-width="1.3" />
<line x1="730.2" y1="902.6" x2="730.2" y2="908.6" stroke="#000" stroke-width="1.3" />
<line x1="730.2" y1="110.6" x2="730.2" y2="105.1" stroke="#000" stroke-width="1.3" />
<line x1="746.39" y1="902.6" x2="746.39" y2="908.6" stroke="#000" stroke-width="1.3" />
<line x1="746.39" y1="110.6" x2="746.39" y2="105.1" stroke="#000" stroke-width="1.3" />
<line x1="762.58" y1="902.6" x2="762.58" y2="908.6" stroke="#000" stroke-width="1.3" />
<line x1="762.58" y1="110.6" x2="762.58" y2="105.1" stroke="#000" stroke-width="1.3" />
<line x1="778.77" y1="902.6" x2="778.77" y2="908.6" stroke="#000" stroke-width="1.3" />
<line x1="778.77" y1="110.6" x2="778.77" y2="105.1" stroke="#000" stroke-width="1.3" />
<line x1="794.96" y1="902.6" x2="794.96" y2="908.6" stroke="#000" stroke-width="1.3" />
<line x1="794.96" y1="110.6" x2="794.96" y2="105.1" stroke="#000" stroke-width="1.3" />
<line x1="811.15" y1="902.6" x2="811.15" y2="914.1" stroke="#000" stroke-width="1.3" />
<line x1="811.15" y1="110.6" x2="811.15" y2="99.1" stroke="#000" stroke-width="1.3" />
<line x1="827.34" y1="902.6" x2="827.34" y2="908.6" stroke="#000" stroke-width="1.3" />
<line x1="827.34" y1="110.6" x2="827.34" y2="105.1" stroke="#000" stroke-width="1.3" />
<line x1="843.53" y1="902.6" x2="843.53" y2="908.6" stroke="#000" stroke-width="1.3" />
<line x1="843.53" y1="110.6" x2="843.53" y2="105.1" stroke="#000" stroke-width="1.3" />
<line x1="859.72" y1="902.6" x2="859.72" y2="908.6" stroke="#000" stroke-width="1.3" />
<line x1="859.72" y1="110.6" x2="859.72" y2="105.1" stroke="#000" stroke-width="1.3" />
<line x1="875.91" y1="902.6" x2="875.91" y2="908.6" stroke="#000" stroke-width="1.3" />
<line x1="875.91" y1="110.6" x2="875.91" y2="105.1" stroke="#000" stroke-width="1.3" />
<line x1="892.1" y1="902.6" x2="892.1" y2="908.6" stroke="#000" stroke-width="1.3" />
<line x1="892.1" y1="110.6" x2="892.1" y2="105.1" stroke="#000" stroke-width="1.3" />
<line x1="908.29" y1="902.6" x2="908.29" y2="908.6" stroke="#000" stroke-width="1.3" />
<line x1="908.29" y1="110.6" x2="908.29" y2="105.1" stroke="#000" stroke-width="1.3" />
<line x1="924.48" y1="902.6" x2="924.48" y2="908.6" stroke="#000" stroke-width="1.3" />
<line x1="924.48" y1="110.6" x2="924.48" y2="105.1" stroke="#000" stroke-width="1.3" />
<line x1="940.67" y1="902.6" x2="940.67" y2="908.6" stroke="#000" stroke-width="1.3" />
<line x1="940.67" y1="110.6" x2="940.67" y2="105.1" stroke="#000" stroke-width="1.3" />
<line x1="956.86" y1="902.6" x2="956.86" y2="908.6" stroke="#000" stroke-width="1.3" />
<line x1="956.86" y1="110.6" x2="956.86" y2="105.1" stroke="#000" stroke-width="1.3" />
<line x1="973.05" y1="902.6" x2="973.05" y2="914.1" stroke="#000" stroke-width="1.3" />
<line x1="973.05" y1="110.6" x2="973.05" y2="99.1" stroke="#000" stroke-width="1.3" />
<line x1="989.24" y1="902.6" x2="989.24" y2="908.6" stroke="#000" stroke-width="1.3" />
<line x1="989.24" y1="110.6" x2="989.24" y2="105.1" stroke="#000" stroke-width="1.3" />
<line x1="1005.43" y1="902.6" x2="1005.43" y2="908.6" stroke="#000" stroke-width="1.3" />
<line x1="1005.43" y1="110.6" x2="1005.43" y2="105.1" stroke="#000" stroke-width="1.3" />
<line x1="1021.62" y1="902.6" x2="1021.62" y2="908.6" stroke="#000" stroke-width="1.3" />
<line x1="1021.62" y1="110.6" x2="1021.62" y2="105.1" stroke="#000" stroke-width="1.3" />
<line x1="1037.81" y1="902.6" x2="1037.81" y2="908.6" stroke="#000" stroke-width="1.3" />
<line x1="1037.81" y1="110.6" x2="1037.81" y2="105.1" stroke="#000" stroke-width="1.3" />
<line x1="1054" y1="902.6" x2="1054" y2="908.6" stroke="#000" stroke-width="1.3" />
<line x1="1054" y1="110.6" x2="1054" y2="105.1" stroke="#000" stroke-width="1.3" />
<line x1="1070.19" y1="902.6" x2="1070.19" y2="908.6" stroke="#000" stroke-width="1.3" />
<line x1="1070.19" y1="110.6" x2="1070.19" y2="105.1" stroke="#000" stroke-width="1.3" />
<line x1="1086.38" y1="902.6" x2="1086.38" y2="908.6" stroke="#000" stroke-width="1.3" />
<line x1="1086.38" y1="110.6" x2="1086.38" y2="105.1" stroke="#000" stroke-width="1.3" />
<line x1="1102.57" y1="902.6" x2="1102.57" y2="908.6" stroke="#000" stroke-width="1.3" />
<line x1="1102.57" y1="110.6" x2="1102.57" y2="105.1" stroke="#000" stroke-width="1.3" />
<line x1="1118.76" y1="902.6" x2="1118.76" y2="908.6" stroke="#000" stroke-width="1.3" />
<line x1="1118.76" y1="110.6" x2="1118.76" y2="105.1" stroke="#000" stroke-width="1.3" />
<line x1="1134.95" y1="902.6" x2="1134.95" y2="914.1" stroke="#000" stroke-width="1.3" />
<line x1="1134.95" y1="110.6" x2="1134.95" y2="99.1" stroke="#000" stroke-width="1.3" />
<line x1="1151.14" y1="902.6" x2="1151.14" y2="908.6" stroke="#000" stroke-width="1.3" />
<line x1="1151.14" y1="110.6" x2="1151.14" y2="105.1" stroke="#000" stroke-width="1.3" />
<line x1="1167.33" y1="902.6" x2="1167.33" y2="908.6" stroke="#000" stroke-width="1.3" />
<line x1="1167.33" y1="110.6" x2="1167.33" y2="105.1" stroke="#000" stroke-width="1.3" />
<line x1="1183.52" y1="902.6" x2="1183.52" y2="908.6" stroke="#000" stroke-width="1.3" />
<line x1="1183.52" y1="110.6" x2="1183.52" y2="105.1" stroke="#000" stroke-width="1.3" />
<line x1="1199.71" y1="902.6" x2="1199.71" y2="908.6" stroke="#000" stroke-width="1.3" />
<line x1="1199.71" y1="110.6" x2="1199.71" y2="105.1" stroke="#000" stroke-width="1.3" />
<line x1="1215.9" y1="902.6" x2="1215.9" y2="908.6" stroke="#000" stroke-width="1.3" />
<line x1="1215.9" y1="110.6" x2="1215.9" y2="105.1" stroke="#000" stroke-width="1.3" />
<line x1="1232.09" y1="902.6" x2="1232.09" y2="908.6" stroke="#000" stroke-width="1.3" />
<line x1="1232.09" y1="110.6" x2="1232.09" y2="105.1" stroke="#000" stroke-width="1.3" />
<line x1="1248.28" y1="902.6" x2="1248.28" y2="908.6" stroke="#000" stroke-width="1.3" />
<line x1="1248.28" y1="110.6" x2="1248.28" y2="105.1" stroke="#000" stroke-width="1.3" />
<line x1="1264.47" y1="902.6" x2="1264.47" y2="908.6" stroke="#000" stroke-width="1.3" />
<line x1="1264.47" y1="110.6" x2="1264.47" y2="105.1" stroke="#000" stroke-width="1.3" />
<line x1="1280.66" y1="902.6" x2="1280.66" y2="908.6" stroke="#000" stroke-width="1.3" />
<line x1="1280.66" y1="110.6" x2="1280.66" y2="105.1" stroke="#000" stroke-width="1.3" />
<line x1="1296.85" y1="902.6" x2="1296.85" y2="914.1" stroke="#000" stroke-width="1.3" />
<line x1="1296.85" y1="110.6" x2="1296.85" y2="99.1" stroke="#000" stroke-width="1.3" />
<line x1="1313.04" y1="902.6" x2="1313.04" y2="908.6" stroke="#000" stroke-width="1.3" />
<line x1="1313.04" y1="110.6" x2="1313.04" y2="105.1" stroke="#000" stroke-width="1.3" />
<line x1="1329.23" y1="902.6" x2="1329.23" y2="908.6" stroke="#000" stroke-width="1.3" />
<line x1="1329.23" y1="110.6" x2="1329.23" y2="105.1" stroke="#000" stroke-width="1.3" />
<line x1="1345.42" y1="902.6" x2="1345.42" y2="908.6" stroke="#000" stroke-width="1.3" />
<line x1="1345.42" y1="110.6" x2="1345.42" y2="105.1" stroke="#000" stroke-width="1.3" />
<line x1="1361.61" y1="902.6" x2="1361.61" y2="908.6" stroke="#000" stroke-width="1.3" />
<line x1="1361.61" y1="110.6" x2="1361.61" y2="105.1" stroke="#000" stroke-width="1.3" />
<line x1="1377.8" y1="902.6" x2="1377.8" y2="908.6" stroke="#000" stroke-width="1.3" />
<line x1="1377.8" y1="110.6" x2="1377.8" y2="105.1" stroke="#000" stroke-width="1.3" />
<line x1="1393.99" y1="902.6" x2="1393.99" y2="908.6" stroke="#000" stroke-width="1.3" />
<line x1="1393.99" y1="110.6" x2="1393.99" y2="105.1" stroke="#000" stroke-width="1.3" />
<line x1="1410.18" y1="902.6" x2="1410.18" y2="908.6" stroke="#000" stroke-width="1.3" />
<line x1="1410.18" y1="110.6" x2="1410.18" y2="105.1" stroke="#000" stroke-width="1.3" />
<line x1="1426.37" y1="902.6" x2="1426.37" y2="908.6" stroke="#000" stroke-width="1.3" />
<line x1="1426.37" y1="110.6" x2="1426.37" y2="105.1" stroke="#000" stroke-width="1.3" />
<line x1="1442.56" y1="902.6" x2="1442.56" y2="908.6" stroke="#000" stroke-width="1.3" />
<line x1="1442.56" y1="110.6" x2="1442.56" y2="105.1" stroke="#000" stroke-width="1.3" />
<line x1="1458.75" y1="902.6" x2="1458.75" y2="914.1" stroke="#000" stroke-width="1.3" />
<line x1="1458.75" y1="110.6" x2="1458.75" y2="99.1" stroke="#000" stroke-width="1.3" />
<line x1="163.3" y1="902.5" x2="151.3" y2="902.5" stroke="#000" stroke-width="1.3" />
<line x1="163.3" y1="862.9" x2="157" y2="862.9" stroke="#000" stroke-width="1.3" />
<line x1="163.3" y1="823.3" x2="151.3" y2="823.3" stroke="#000" stroke-width="1.3" />
<line x1="163.3" y1="783.7" x2="157" y2="783.7" stroke="#000" stroke-width="1.3" />
<line x1="163.3" y1="744.1" x2="151.3" y2="744.1" stroke="#000" stroke-width="1.3" />
<line x1="163.3" y1="704.5" x2="157" y2="704.5" stroke="#000" stroke-width="1.3" />
<line x1="163.3" y1="664.9" x2="151.3" y2="664.9" stroke="#000" stroke-width="1.3" />
<line x1="163.3" y1="625.3" x2="157" y2="625.3" stroke="#000" stroke-width="1.3" />
<line x1="163.3" y1="585.7" x2="151.3" y2="585.7" stroke="#000" stroke-width="1.3" />
<line x1="163.3" y1="546.1" x2="157" y2="546.1" stroke="#000" stroke-width="1.3" />
<line x1="163.3" y1="506.5" x2="151.3" y2="506.5" stroke="#000" stroke-width="1.3" />
<line x1="163.3" y1="466.9" x2="157" y2="466.9" stroke="#000" stroke-width="1.3" />
<line x1="163.3" y1="427.3" x2="151.3" y2="427.3" stroke="#000" stroke-width="1.3" />
<line x1="163.3" y1="387.7" x2="157" y2="387.7" stroke="#000" stroke-width="1.3" />
<line x1="163.3" y1="348.1" x2="151.3" y2="348.1" stroke="#000" stroke-width="1.3" />
<line x1="163.3" y1="308.5" x2="157" y2="308.5" stroke="#000" stroke-width="1.3" />
<line x1="163.3" y1="268.9" x2="151.3" y2="268.9" stroke="#000" stroke-width="1.3" />
<line x1="163.3" y1="229.3" x2="157" y2="229.3" stroke="#000" stroke-width="1.3" />
<line x1="163.3" y1="189.7" x2="151.3" y2="189.7" stroke="#000" stroke-width="1.3" />
<line x1="163.3" y1="150.1" x2="157" y2="150.1" stroke="#000" stroke-width="1.3" />
<line x1="163.3" y1="110.5" x2="151.3" y2="110.5" stroke="#000" stroke-width="1.3" />
<line x1="1459.5" y1="501.06" x2="1465" y2="501.06" stroke="#000" stroke-width="1.3" />
<line x1="1459.5" y1="494.97" x2="1465" y2="494.97" stroke="#000" stroke-width="1.3" />
<line x1="1459.5" y1="488.87" x2="1465" y2="488.87" stroke="#000" stroke-width="1.3" />
<line x1="1459.5" y1="482.78" x2="1465" y2="482.78" stroke="#000" stroke-width="1.3" />
<line x1="1459.5" y1="476.68" x2="1465" y2="476.68" stroke="#000" stroke-width="1.3" />
<line x1="1459.5" y1="470.58" x2="1465" y2="470.58" stroke="#000" stroke-width="1.3" />
<line x1="1459.5" y1="464.49" x2="1465" y2="464.49" stroke="#000" stroke-width="1.3" />
<line x1="1459.5" y1="458.39" x2="1465" y2="458.39" stroke="#000" stroke-width="1.3" />
<line x1="1459.5" y1="452.3" x2="1465" y2="452.3" stroke="#000" stroke-width="1.3" />
<line x1="1459.5" y1="446.2" x2="1471" y2="446.2" stroke="#000" stroke-width="1.3" />
<line x1="1459.5" y1="440.1" x2="1465" y2="440.1" stroke="#000" stroke-width="1.3" />
<line x1="1459.5" y1="434.01" x2="1465" y2="434.01" stroke="#000" stroke-width="1.3" />
<line x1="1459.5" y1="427.91" x2="1465" y2="427.91" stroke="#000" stroke-width="1.3" />
<line x1="1459.5" y1="421.82" x2="1465" y2="421.82" stroke="#000" stroke-width="1.3" />
<line x1="1459.5" y1="415.72" x2="1465" y2="415.72" stroke="#000" stroke-width="1.3" />
<line x1="1459.5" y1="409.62" x2="1465" y2="409.62" stroke="#000" stroke-width="1.3" />
<line x1="1459.5" y1="403.53" x2="1465" y2="403.53" stroke="#000" stroke-width="1.3" />
<line x1="1459.5" y1="397.43" x2="1465" y2="397.43" stroke="#000" stroke-width="1.3" />
<line x1="1459.5" y1="391.34" x2="1465" y2="391.34" stroke="#000" stroke-width="1.3" />
<line x1="1459.5" y1="385.24" x2="1471" y2="385.24" stroke="#000" stroke-width="1.3" />
<line x1="1459.5" y1="379.14" x2="1465" y2="379.14" stroke="#000" stroke-width="1.3" />
<line x1="1459.5" y1="373.05" x2="1465" y2="373.05" stroke="#000" stroke-width="1.3" />
<line x1="1459.5" y1="366.95" x2="1465" y2="366.95" stroke="#000" stroke-width="1.3" />
<line x1="1459.5" y1="360.86" x2="1465" y2="360.86" stroke="#000" stroke-width="1.3" />
<line x1="1459.5" y1="354.76" x2="1465" y2="354.76" stroke="#000" stroke-width="1.3" />
<line x1="1459.5" y1="348.66" x2="1465" y2="348.66" stroke="#000" stroke-width="1.3" />
<line x1="1459.5" y1="342.57" x2="1465" y2="342.57" stroke="#000" stroke-width="1.3" />
<line x1="1459.5" y1="336.47" x2="1465" y2="336.47" stroke="#000" stroke-width="1.3" />
<line x1="1459.5" y1="330.38" x2="1465" y2="330.38" stroke="#000" stroke-width="1.3" />
<line x1="1459.5" y1="324.28" x2="1471" y2="324.28" stroke="#000" stroke-width="1.3" />
<line x1="1459.5" y1="318.18" x2="1465" y2="318.18" stroke="#000" stroke-width="1.3" />
<line x1="1459.5" y1="312.09" x2="1465" y2="312.09" stroke="#000" stroke-width="1.3" />
<line x1="1459.5" y1="305.99" x2="1465" y2="305.99" stroke="#000" stroke-width="1.3" />
<line x1="1459.5" y1="299.9" x2="1465" y2="299.9" stroke="#000" stroke-width="1.3" />
<line x1="1459.5" y1="293.8" x2="1465" y2="293.8" stroke="#000" stroke-width="1.3" />
<line x1="1459.5" y1="287.7" x2="1465" y2="287.7" stroke="#000" stroke-width="1.3" />
<line x1="1459.5" y1="281.61" x2="1465" y2="281.61" stroke="#000" stroke-width="1.3" />
<line x1="1459.5" y1="275.51" x2="1465" y2="275.51" stroke="#000" stroke-width="1.3" />
<line x1="1459.5" y1="269.42" x2="1465" y2="269.42" stroke="#000" stroke-width="1.3" />
<line x1="1459.5" y1="263.32" x2="1471" y2="263.32" stroke="#000" stroke-width="1.3" />
<line x1="1459.5" y1="257.22" x2="1465" y2="257.22" stroke="#000" stroke-width="1.3" />
<line x1="1459.5" y1="251.13" x2="1465" y2="251.13" stroke="#000" stroke-width="1.3" />
<line x1="1459.5" y1="245.03" x2="1465" y2="245.03" stroke="#000" stroke-width="1.3" />
<line x1="1459.5" y1="238.94" x2="1465" y2="238.94" stroke="#000" stroke-width="1.3" />
<line x1="1459.5" y1="232.84" x2="1465" y2="232.84" stroke="#000" stroke-width="1.3" />
<line x1="1459.5" y1="226.74" x2="1465" y2="226.74" stroke="#000" stroke-width="1.3" />
<line x1="1459.5" y1="220.65" x2="1465" y2="220.65" stroke="#000" stroke-width="1.3" />
<line x1="1459.5" y1="214.55" x2="1465" y2="214.55" stroke="#000" stroke-width="1.3" />
<line x1="1459.5" y1="208.46" x2="1465" y2="208.46" stroke="#000" stroke-width="1.3" />
<line x1="1459.5" y1="202.36" x2="1471" y2="202.36" stroke="#000" stroke-width="1.3" />
<line x1="1459.5" y1="196.26" x2="1465" y2="196.26" stroke="#000" stroke-width="1.3" />
<line x1="1459.5" y1="190.17" x2="1465" y2="190.17" stroke="#000" stroke-width="1.3" />
<line x1="1459.5" y1="184.07" x2="1465" y2="184.07" stroke="#000" stroke-width="1.3" />
<line x1="1459.5" y1="177.98" x2="1465" y2="177.98" stroke="#000" stroke-width="1.3" />
<line x1="1459.5" y1="171.88" x2="1465" y2="171.88" stroke="#000" stroke-width="1.3" />
<line x1="1459.5" y1="165.78" x2="1465" y2="165.78" stroke="#000" stroke-width="1.3" />
<line x1="1459.5" y1="159.69" x2="1465" y2="159.69" stroke="#000" stroke-width="1.3" />
<line x1="1459.5" y1="153.59" x2="1465" y2="153.59" stroke="#000" stroke-width="1.3" />
<line x1="1459.5" y1="147.5" x2="1465" y2="147.5" stroke="#000" stroke-width="1.3" />
<line x1="1459.5" y1="141.4" x2="1471" y2="141.4" stroke="#000" stroke-width="1.3" />
<line x1="1459.5" y1="135.3" x2="1465" y2="135.3" stroke="#000" stroke-width="1.3" />
<line x1="1459.5" y1="129.21" x2="1465" y2="129.21" stroke="#000" stroke-width="1.3" />
<line x1="1459.5" y1="123.11" x2="1465" y2="123.11" stroke="#000" stroke-width="1.3" />
<line x1="1459.5" y1="117.02" x2="1465" y2="117.02" stroke="#000" stroke-width="1.3" />
<line x1="1459.5" y1="110.92" x2="1465" y2="110.92" stroke="#000" stroke-width="1.3" />
<line x1="1459.5" y1="902.55" x2="1471" y2="902.55" stroke="#000" stroke-width="1.3" />
<line x1="1459.5" y1="889.34" x2="1465" y2="889.34" stroke="#000" stroke-width="1.3" />
<line x1="1459.5" y1="876.13" x2="1465" y2="876.13" stroke="#000" stroke-width="1.3" />
<line x1="1459.5" y1="862.92" x2="1465" y2="862.92" stroke="#000" stroke-width="1.3" />
<line x1="1459.5" y1="849.71" x2="1465" y2="849.71" stroke="#000" stroke-width="1.3" />
<line x1="1459.5" y1="836.5" x2="1471" y2="836.5" stroke="#000" stroke-width="1.3" />
<line x1="1459.5" y1="823.29" x2="1465" y2="823.29" stroke="#000" stroke-width="1.3" />
<line x1="1459.5" y1="810.08" x2="1465" y2="810.08" stroke="#000" stroke-width="1.3" />
<line x1="1459.5" y1="796.87" x2="1465" y2="796.87" stroke="#000" stroke-width="1.3" />
<line x1="1459.5" y1="783.66" x2="1465" y2="783.66" stroke="#000" stroke-width="1.3" />
<line x1="1459.5" y1="770.45" x2="1471" y2="770.45" stroke="#000" stroke-width="1.3" />
<line x1="1459.5" y1="757.24" x2="1465" y2="757.24" stroke="#000" stroke-width="1.3" />
<line x1="1459.5" y1="744.03" x2="1465" y2="744.03" stroke="#000" stroke-width="1.3" />
<line x1="1459.5" y1="730.82" x2="1465" y2="730.82" stroke="#000" stroke-width="1.3" />
<line x1="1459.5" y1="717.61" x2="1465" y2="717.61" stroke="#000" stroke-width="1.3" />
<line x1="1459.5" y1="704.4" x2="1471" y2="704.4" stroke="#000" stroke-width="1.3" />
<line x1="1459.5" y1="691.19" x2="1465" y2="691.19" stroke="#000" stroke-width="1.3" />
<line x1="1459.5" y1="677.98" x2="1465" y2="677.98" stroke="#000" stroke-width="1.3" />
<line x1="1459.5" y1="664.77" x2="1465" y2="664.77" stroke="#000" stroke-width="1.3" />
<line x1="1459.5" y1="651.56" x2="1465" y2="651.56" stroke="#000" stroke-width="1.3" />
<line x1="1459.5" y1="638.35" x2="1471" y2="638.35" stroke="#000" stroke-width="1.3" />
<line x1="1459.5" y1="625.14" x2="1465" y2="625.14" stroke="#000" stroke-width="1.3" />
<line x1="1459.5" y1="611.93" x2="1465" y2="611.93" stroke="#000" stroke-width="1.3" />
<line x1="1459.5" y1="598.72" x2="1465" y2="598.72" stroke="#000" stroke-width="1.3" />
<line x1="1459.5" y1="585.51" x2="1465" y2="585.51" stroke="#000" stroke-width="1.3" />
<line x1="1459.5" y1="572.3" x2="1471" y2="572.3" stroke="#000" stroke-width="1.3" />
<line x1="1459.5" y1="559.09" x2="1465" y2="559.09" stroke="#000" stroke-width="1.3" />
<line x1="1459.5" y1="545.88" x2="1465" y2="545.88" stroke="#000" stroke-width="1.3" />
<line x1="1459.5" y1="532.67" x2="1465" y2="532.67" stroke="#000" stroke-width="1.3" />
<line x1="1459.5" y1="519.46" x2="1465" y2="519.46" stroke="#000" stroke-width="1.3" />
<rect x="163.3" y="110.6" width="1296.2" height="792" fill="none" stroke="#000" stroke-width="2.4"/>
<text transform="translate(163.55 946.3) scale(1 1.045)" font-size="28" text-anchor="middle" ><tspan dy="2.91">−</tspan><tspan dy="-2.91">10</tspan></text>
<text transform="translate(325.45 946.3) scale(1 1.045)" font-size="28" text-anchor="middle" >0</text>
<text transform="translate(487.35 946.3) scale(1 1.045)" font-size="28" text-anchor="middle" >10</text>
<text transform="translate(649.25 946.3) scale(1 1.045)" font-size="28" text-anchor="middle" >20</text>
<text transform="translate(811.15 946.3) scale(1 1.045)" font-size="28" text-anchor="middle" >30</text>
<text transform="translate(973.05 946.3) scale(1 1.045)" font-size="28" text-anchor="middle" >40</text>
<text transform="translate(1134.95 946.3) scale(1 1.045)" font-size="28" text-anchor="middle" >50</text>
<text transform="translate(1296.85 946.3) scale(1 1.045)" font-size="28" text-anchor="middle" >60</text>
<text transform="translate(1458.75 946.3) scale(1 1.045)" font-size="28" text-anchor="middle" >70</text>
<text transform="translate(140 912.7) scale(1 1.045)" font-size="28" text-anchor="end" ><tspan dy="2.91">−</tspan><tspan dy="-2.91">100</tspan></text>
<text transform="translate(140 833.5) scale(1 1.045)" font-size="28" text-anchor="end" ><tspan dy="2.91">−</tspan><tspan dy="-2.91">80</tspan></text>
<text transform="translate(140 754.3) scale(1 1.045)" font-size="28" text-anchor="end" ><tspan dy="2.91">−</tspan><tspan dy="-2.91">60</tspan></text>
<text transform="translate(140 675.1) scale(1 1.045)" font-size="28" text-anchor="end" ><tspan dy="2.91">−</tspan><tspan dy="-2.91">40</tspan></text>
<text transform="translate(140 595.9) scale(1 1.045)" font-size="28" text-anchor="end" ><tspan dy="2.91">−</tspan><tspan dy="-2.91">20</tspan></text>
<text transform="translate(140 516.7) scale(1 1.045)" font-size="28" text-anchor="end" >0</text>
<text transform="translate(140 437.5) scale(1 1.045)" font-size="28" text-anchor="end" >20</text>
<text transform="translate(140 358.3) scale(1 1.045)" font-size="28" text-anchor="end" >40</text>
<text transform="translate(140 279.1) scale(1 1.045)" font-size="28" text-anchor="end" >60</text>
<text transform="translate(140 199.9) scale(1 1.045)" font-size="28" text-anchor="end" >80</text>
<text transform="translate(140 120.7) scale(1 1.045)" font-size="28" text-anchor="end" >100</text>
<text transform="translate(1544.2 456.2) scale(1 1.045)" font-size="28" text-anchor="end" >980</text>
<text transform="translate(1544.2 395.24) scale(1 1.045)" font-size="28" text-anchor="end" >990</text>
<text transform="translate(1544.2 334.28) scale(1 1.045)" font-size="28" text-anchor="end" >1000</text>
<text transform="translate(1544.2 273.32) scale(1 1.045)" font-size="28" text-anchor="end" >1010</text>
<text transform="translate(1544.2 212.36) scale(1 1.045)" font-size="28" text-anchor="end" >1020</text>
<text transform="translate(1544.2 151.4) scale(1 1.045)" font-size="28" text-anchor="end" >1030</text>
<text transform="translate(1560.4 912.55) scale(1 1.045)" font-size="28" text-anchor="end" ><tspan dy="2.91">−</tspan><tspan dy="-2.91">1500</tspan></text>
<text transform="translate(1560.4 846.5) scale(1 1.045)" font-size="28" text-anchor="end" ><tspan dy="2.91">−</tspan><tspan dy="-2.91">1000</tspan></text>
<text transform="translate(1560.4 780.45) scale(1 1.045)" font-size="28" text-anchor="end" ><tspan dy="2.91">−</tspan><tspan dy="-2.91">500</tspan></text>
<text transform="translate(1560.4 714.4) scale(1 1.045)" font-size="28" text-anchor="end" >0</text>
<text transform="translate(1560.4 648.35) scale(1 1.045)" font-size="28" text-anchor="end" >500</text>
<text transform="translate(1560.4 582.3) scale(1 1.045)" font-size="28" text-anchor="end" >1000</text>
<text transform="translate(48.9 506.4) rotate(-90) scale(1 1.045)" font-size="36" text-anchor="middle" >Obs’d Gravity, offset 20.0 [nm/s<tspan font-size="25.2" dy="-12.6">2</tspan><tspan dy="12.6">]</tspan></text>
<text transform="translate(1599 308.4) rotate(-90) scale(1 1.045)" font-size="36" text-anchor="middle" >Pressure [hPa]</text>
<text transform="translate(1615.5 704.6) rotate(-90) scale(1 1.045)" font-size="36" text-anchor="middle" >Tide [nm/s<tspan font-size="25.2" dy="-12.6">2</tspan><tspan dy="12.6">]</tspan></text>
<text transform="translate(810.8 1000) scale(1 1.045)" font-size="35.9" text-anchor="middle" >Time [min] from 2014<tspan dy="3.73">−</tspan><tspan dy="-3.73">06</tspan><tspan dy="3.73">−</tspan><tspan dy="-3.73">02 19:01:00 UTC</tspan></text>
<text transform="translate(560 82) scale(1 1.015)" font-size="32.15" text-anchor="start" font-weight="bold" >SCG_054 gravimeter Onsala Space Observatory, Sweden</text>
<text transform="translate(192.6 888) scale(1 1.015)" font-size="27.9" text-anchor="start" font-weight="bold" >The latest 1–hour, 1–second sampling</text>
<text transform="translate(997.2 888) scale(1 1.015)" font-size="28" text-anchor="start" font-weight="bold" >End at 2014–06–02 20:00:59 UTC</text>
<rect x="167" y="28.5" width="372.5" height="153" fill="#fff" stroke="#787878" stroke-width="1"/>
<line x1="204" y1="39.5" x2="260" y2="39.5" stroke="#0000ff" stroke-width="1" stroke-opacity="0.6"/>
<circle cx="232.3" cy="39.5" r="4.3" fill="#0000ff"/>
<line x1="204" y1="69.5" x2="260" y2="69.5" stroke="#00c8c8" stroke-width="1" stroke-opacity="0.6"/>
<circle cx="232.3" cy="69.5" r="4.3" fill="#00cdcd"/>
<line x1="204" y1="100.3" x2="260" y2="100.3" stroke="#000" stroke-width="2.6" />
<line x1="204" y1="130.5" x2="260" y2="130.5" stroke="#bebebe" stroke-width="3.0" />
<line x1="204" y1="161.5" x2="260" y2="161.5" stroke="#ff0000" stroke-width="1" stroke-opacity="0.6"/>
<circle cx="232.3" cy="161.5" r="4.3" fill="#ff0000"/>
<text transform="translate(278.8 47.9) scale(1 1.045)" font-size="24" text-anchor="start" >Pressure</text>
<text transform="translate(278.8 77.9) scale(1 1.045)" font-size="24" text-anchor="start" >100 P, band<tspan dy="2.5">−</tspan><tspan dy="-2.5">passed</tspan></text>
<text transform="translate(278.8 108.4) scale(1 1.045)" font-size="24" text-anchor="start" >Residual</text>
<text transform="translate(278.8 138.9) scale(1 1.045)" font-size="24" text-anchor="start" >... last 10 min.</text>
<text transform="translate(278.8 169.9) scale(1 1.045)" font-size="24" text-anchor="start" >Theor.Tide</text>
</svg>
</body></html>
